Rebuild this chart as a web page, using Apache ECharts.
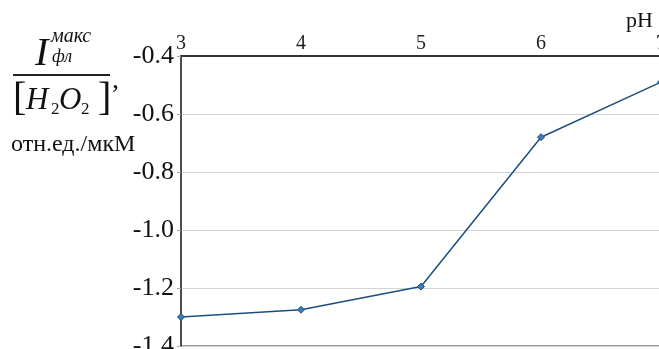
<!DOCTYPE html>
<html>
<head>
<meta charset="utf-8">
<script src="https://cdn.jsdelivr.net/npm/echarts@6/dist/echarts.min.js"></script>
<style>
  html, body { margin: 0; padding: 0; background: #fff; }
  #chart { width: 659px; height: 349px; }
</style>
</head>
<body>
<div id="chart"></div>
<script>
// pH values and the normalised fluorescence response at each
const phValues = [3, 4, 5, 6, 7];
const responseValues = [-1.30, -1.275, -1.195, -0.68, -0.49];
const yTicks = [-1.4, -1.2, -1.0, -0.8, -0.6, -0.4];
const xTicks = [3, 4, 5, 6, 7];

const serif = '"Liberation Serif", "DejaVu Serif", serif';
const chart = echarts.init(document.getElementById('chart'), null, { renderer: 'canvas' });

const points = phValues.map((x, i) => [x, responseValues[i]]);

chart.setOption({
  animation: false,
  backgroundColor: '#fff',
  grid: {
    left: 181, top: 56, width: 480, height: 290,
    outerBoundsMode: 'none', containLabel: false,
    show: true, borderColor: '#333', borderWidth: 1, backgroundColor: 'transparent'
  },
  xAxis: {
    type: 'value', position: 'top',
    min: xTicks[0], max: xTicks[xTicks.length - 1], interval: 1,
    axisLine: { show: true, lineStyle: { color: '#333', width: 2 } },
    axisTick: { show: false },
    splitLine: { show: false },
    axisLabel: { color: '#222', fontFamily: serif, fontSize: 20, margin: 2 }
  },
  yAxis: {
    type: 'value',
    min: yTicks[0], max: yTicks[yTicks.length - 1], interval: 0.2,
    axisLine: { show: true, lineStyle: { color: '#333', width: 1.5 } },
    axisTick: { show: true, length: 4, lineStyle: { color: '#aaa' } },
    splitLine: { show: true, lineStyle: { color: '#d4d4d4', width: 1.2 } },
    axisLabel: {
      color: '#111', fontFamily: serif, fontSize: 26, margin: 7,
      padding: [6, 0, 0, 0],
      formatter: v => v.toFixed(1)
    }
  },
  series: [{
    type: 'line',
    data: points,
    symbol: 'diamond', symbolSize: 7,
    lineStyle: { color: '#1d4f7c', width: 1.5 },
    itemStyle: { color: '#3a7bb8', borderColor: '#1d4f7c', borderWidth: 1 }
  }],
  graphic: [
    // fraction: I_фл^макс / [H2O2]
    { type: 'text', left: 35, top: 34, style: { text: 'I', font: 'italic 40px ' + serif, fill: '#111' } },
    { type: 'text', left: 51, top: 27, style: { text: 'макс', font: 'italic 20px ' + serif, fill: '#111' } },
    { type: 'text', left: 52, top: 48, style: { text: 'фл', font: 'italic 18px ' + serif, fill: '#111' } },
    { type: 'rect', shape: { x: 13, y: 74, width: 97, height: 2 }, style: { fill: '#222' } },
    { type: 'text', left: 13, top: 79, style: { text: '[', font: '40px ' + serif, fill: '#111' } },
    { type: 'text', left: 26, top: 85, style: { text: 'H', font: 'italic 31px ' + serif, fill: '#111' } },
    { type: 'text', left: 51, top: 101, style: { text: '2', font: '17px ' + serif, fill: '#111' } },
    { type: 'text', left: 59, top: 85, style: { text: 'O', font: 'italic 31px ' + serif, fill: '#111' } },
    { type: 'text', left: 81, top: 101, style: { text: '2', font: '17px ' + serif, fill: '#111' } },
    { type: 'text', left: 98, top: 79, style: { text: ']', font: '40px ' + serif, fill: '#111' } },
    { type: 'text', left: 112, top: 67, style: { text: ',', font: '28px ' + serif, fill: '#111' } },
    { type: 'text', left: 11, top: 133, style: { text: 'отн.ед./мкМ', font: '24px ' + serif, fill: '#111' } },
    // axis name
    { type: 'text', left: 626, top: 10, style: { text: 'pH', font: '22px ' + serif, fill: '#111' } }
  ]
});
</script>
</body>
</html>
